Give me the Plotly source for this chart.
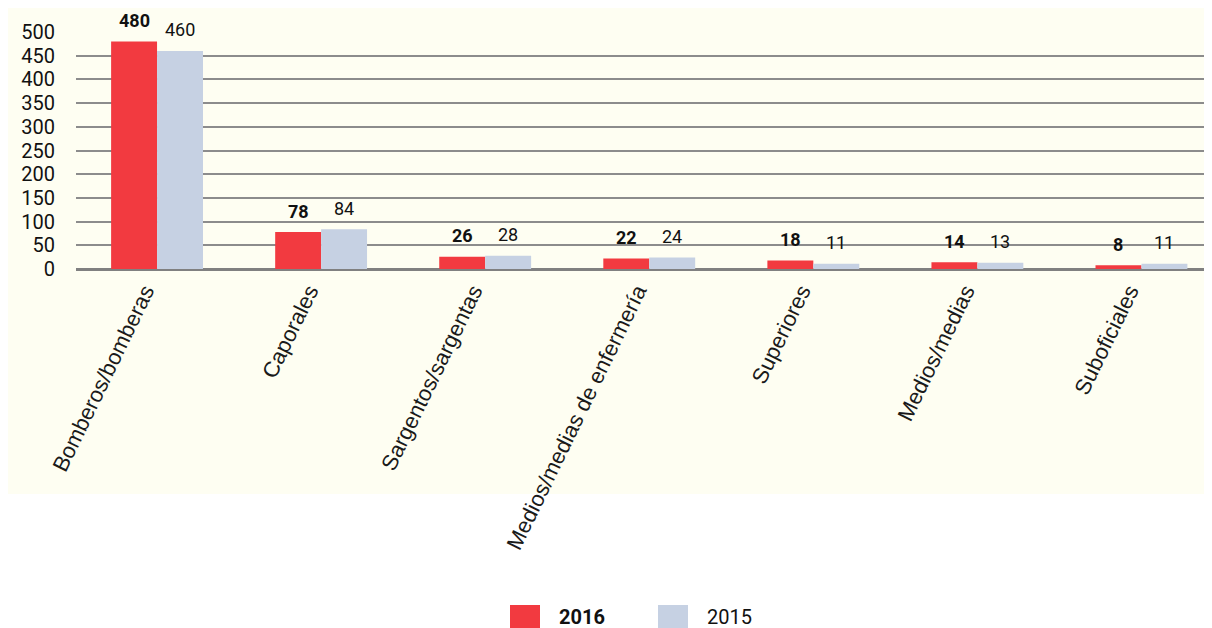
import plotly.graph_objects as go

categories = ["Bomberos/bomberas", "Caporales", "Sargentos/sargentas",
              "Medios/medias de enfermería", "Superiores", "Medios/medias", "Suboficiales"]
series_names = ["2016", "2015"]
values_2016 = [480, 78, 26, 22, 18, 14, 8]
values_2015 = [460, 84, 28, 24, 11, 13, 11]
y_ticks = [0, 50, 100, 150, 200, 250, 300, 350, 400, 450, 500]

colors = ["#F23A40", "#C6D1E3"]

OFF = 8  # browser body margin
W, H = 1212 - OFF, 628 - OFF
L, R, T, B = 76 - OFF, 0, 32 - OFF, 359
pw = W - L - R
ph = H - T - B

def px_x(px):
    return (px - OFF - L) / pw

def px_y(py):
    return (H - B - (py - OFF)) / ph

fig = go.Figure()
for name, vals, col in zip(series_names, [values_2016, values_2015], colors):
    fig.add_trace(go.Bar(x=categories, y=vals, name=name, marker_color=col,
                         marker_line_width=0, showlegend=False))

annotations = []
for vals, xs, bold in [(values_2016, -23, True), (values_2015, 23, False)]:
    for c, v in zip(categories, vals):
        annotations.append(dict(x=c, y=v, xref="x", yref="y",
                                text=f"<b>{v}</b>" if bold else str(v),
                                showarrow=False, xshift=xs, yshift=21,
                                yanchor="middle",
                                font=dict(family="Roboto", size=18, color="#111")))

legend_items = [(series_names[0], colors[0], 510, True), (series_names[1], colors[1], 658, False)]
shapes = [dict(type="rect", xref="paper", yref="paper",
               x0=px_x(5), x1=px_x(1212), y0=px_y(494), y1=px_y(0),
               fillcolor="#FEFEF2", line_width=0, layer="below")]
for name, col, x0, bold in legend_items:
    shapes.append(dict(type="rect", xref="paper", yref="paper",
                       x0=px_x(x0), x1=px_x(x0 + 30), y0=px_y(628), y1=px_y(605),
                       fillcolor=col, line_width=0))
    annotations.append(dict(x=px_x(x0 + 47), y=px_y(617), xref="paper", yref="paper",
                            text=f"<b>{name}</b>" if bold else name, showarrow=False,
                            xanchor="left", yanchor="middle",
                            font=dict(family="Roboto", size=20, color="#111")))

fig.update_layout(
    width=W, height=H,
    margin=dict(l=L, r=R, t=T, b=B),
    paper_bgcolor="white",
    plot_bgcolor="rgba(0,0,0,0)",
    barmode="group",
    bargap=0.44,
    bargroupgap=0,
    shapes=shapes,
    annotations=annotations,
    showlegend=False,
)
fig.update_xaxes(type="category", range=[-0.494, 6.43], tickangle=-64,
                 tickfont=dict(family="Liberation Sans", size=22, color="#1a1a1a"),
                 ticklabelshift=-12, ticklabelstandoff=4,
                 showgrid=False, showline=False, ticks="")
fig.update_yaxes(range=[0, 500], tickvals=y_ticks, ticktext=[str(t) for t in y_ticks],
                 showgrid=True, gridcolor="#8C8C8C", gridwidth=2,
                 zeroline=True, zerolinecolor="#808080", zerolinewidth=3,
                 tickfont=dict(family="Roboto", size=20, color="#111"),
                 ticks="outside", ticklen=16, tickcolor="rgba(0,0,0,0)")

fig.write_html("out.html")
